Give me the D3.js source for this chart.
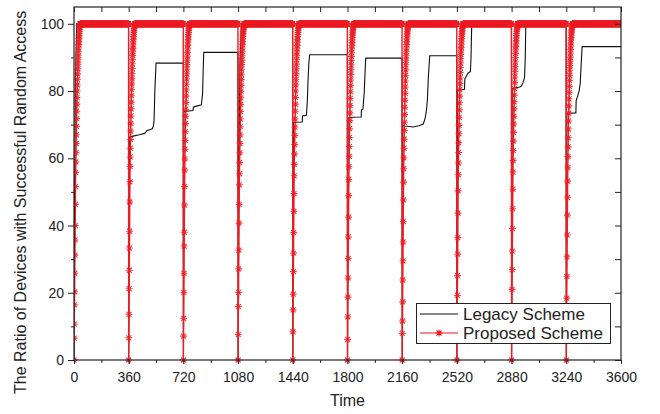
<!DOCTYPE html>
<html><head><meta charset="utf-8">
<script src="https://cdn.jsdelivr.net/npm/d3@7"></script>
<style>
body{margin:0;background:#fff}
svg{display:block}
text{font-family:"Liberation Sans",Arial,Helvetica,sans-serif;fill:#222}
</style></head>
<body><svg id="chart" width="660" height="414"></svg>
<script>
// ---------------- data ----------------
const periodStarts = [0, 360, 720, 1080, 1440, 1800, 2160, 2520, 2880, 3240];
const periodLength = 360;
const timeEnd = 3600;
const xTicks = [0, 360, 720, 1080, 1440, 1800, 2160, 2520, 2880, 3240, 3600];
const xMinorTicks = [180, 540, 900, 1260, 1620, 1980, 2340, 2700, 3060, 3420];
const yTicks = [0, 20, 40, 60, 80, 100];
const yMinorTicks = [10, 30, 50, 70, 90];
const seriesNames = ["Legacy Scheme", "Proposed Scheme"];

// Proposed scheme: ratio (%) sampled every second after each period start, until it reaches the plateau
const proposedRise = [
  [0, 6.5, 10.7, 16.4, 20.3, 25.8, 31.2, 35.7, 40.0, 46.3, 51.6, 55.8, 58.9, 61.7, 64.4, 67.0, 69.5, 71.8, 74.0, 76.1, 78.1, 80.0, 81.8, 83.5, 85.1, 86.6, 88.0, 89.3, 90.5, 91.7, 92.8, 93.8, 94.7, 95.6, 96.4, 97.1, 97.8, 98.4, 98.9, 99.4, 99.8, 100],
  [0, 6.6, 13.6, 21.2, 26.7, 33.3, 38.3, 47.0, 53.0, 57.6, 60.4, 63.0, 65.6, 68.1, 70.4, 72.6, 74.7, 76.7, 78.6, 80.4, 82.1, 83.7, 85.2, 86.7, 88.1, 89.4, 90.6, 91.7, 92.7, 93.7, 94.6, 95.4, 96.2, 96.9, 97.5, 98.1, 98.6, 99.1, 99.5, 99.8, 100],
  [0, 7.1, 12.4, 20.1, 25.8, 33.9, 38.0, 46.1, 51.6, 56.5, 59.8, 62.7, 65.3, 67.9, 70.3, 72.5, 74.6, 76.6, 78.5, 80.3, 82.0, 83.6, 85.1, 86.5, 87.9, 89.2, 90.4, 91.5, 92.6, 93.6, 94.5, 95.3, 96.1, 96.8, 97.4, 98.0, 98.5, 99.0, 99.4, 99.7, 100],
  [0, 7.6, 15.9, 20.1, 27.1, 32.7, 40.7, 46.3, 52.1, 55.4, 58.7, 61.6, 64.4, 67.0, 69.4, 71.7, 73.9, 76.0, 78.0, 79.9, 81.7, 83.4, 85.0, 86.5, 87.9, 89.2, 90.5, 91.7, 92.8, 93.8, 94.7, 95.5, 96.3, 97.0, 97.6, 98.2, 98.7, 99.1, 99.5, 99.8, 100],
  [0, 8.4, 14.9, 19.6, 26.3, 31.8, 37.9, 44.2, 49.5, 54.8, 58.2, 61.3, 64.1, 66.8, 69.3, 71.7, 74.0, 76.1, 78.1, 80.0, 81.8, 83.5, 85.1, 86.6, 88.0, 89.3, 90.5, 91.6, 92.6, 93.6, 94.5, 95.3, 96.1, 96.8, 97.4, 98.0, 98.5, 99.0, 99.4, 99.7, 100],
  [0, 6.1, 12.8, 18.7, 24.4, 30.2, 36.6, 42.5, 48.9, 53.7, 57.5, 60.6, 63.5, 66.2, 68.8, 71.2, 73.5, 75.7, 77.8, 79.8, 81.6, 83.3, 84.9, 86.4, 87.8, 89.1, 90.3, 91.4, 92.5, 93.5, 94.4, 95.2, 96.0, 96.7, 97.3, 97.9, 98.4, 98.9, 99.3, 99.7, 100],
  [0, 7.9, 11.6, 17.3, 23.8, 29.5, 35.1, 41.2, 47.6, 52.9, 56.9, 60.1, 63.0, 65.7, 68.3, 70.7, 73.0, 75.2, 77.3, 79.3, 81.2, 83.0, 84.7, 86.3, 87.8, 89.2, 90.5, 91.7, 92.8, 93.8, 94.7, 95.5, 96.3, 97.0, 97.6, 98.2, 98.7, 99.1, 99.5, 99.8, 100],
  [0, 5.8, 13.1, 19.2, 25.1, 31.5, 36.4, 43.7, 50.3, 55.1, 58.6, 61.7, 64.6, 67.3, 69.8, 72.2, 74.4, 76.5, 78.5, 80.4, 82.2, 83.9, 85.5, 87.0, 88.4, 89.7, 90.9, 92.0, 93.0, 93.9, 94.8, 95.6, 96.3, 97.0, 97.6, 98.1, 98.6, 99.0, 99.4, 99.7, 100],
  [0, 7.3, 14.2, 21.0, 26.9, 32.4, 39.1, 45.0, 50.8, 55.9, 59.3, 62.3, 65.1, 67.7, 70.2, 72.5, 74.7, 76.8, 78.8, 80.7, 82.5, 84.2, 85.8, 87.3, 88.7, 90.0, 91.2, 92.3, 93.3, 94.2, 95.0, 95.8, 96.5, 97.1, 97.7, 98.2, 98.7, 99.1, 99.5, 99.8, 100],
  [0, 6.9, 12.2, 18.4, 24.9, 30.7, 37.2, 43.1, 48.4, 53.2, 57.2, 60.5, 63.4, 66.1, 68.7, 71.1, 73.4, 75.6, 77.7, 79.6, 81.4, 83.1, 84.7, 86.2, 87.6, 88.9, 90.1, 91.3, 92.4, 93.4, 94.3, 95.1, 95.9, 96.6, 97.3, 97.9, 98.4, 98.9, 99.3, 99.7, 100]
];
const proposedPlateau = 100;

// Legacy scheme: time offsets (s, within the period) and ratio (%) at each breakpoint
const legacyOffsets = [
  [0, 4, 10, 18, 359],
  [0, 5, 28, 70, 105, 120, 155, 162, 167, 172, 180, 359],
  [0, 4, 20, 63, 66, 70, 118, 122, 126, 130, 134, 359],
  [0, 5, 12, 22, 359],
  [0, 4, 12, 62, 64, 89, 93, 96, 100, 106, 111, 359],
  [0, 4, 30, 90, 92, 102, 106, 110, 114, 120, 359],
  [0, 4, 17, 72, 110, 138, 145, 153, 160, 166, 172, 181, 359],
  [0, 4, 30, 50, 52, 62, 73, 89, 93, 97, 101, 359],
  [0, 4, 27, 55, 65, 70, 75, 85, 90, 93, 97, 359],
  [0, 4, 20, 63, 65, 75, 86, 92, 98, 104, 360]
];
const legacyValues = [
  [0, 50, 85, 100, 100],
  [0, 66.3, 66.6, 67.0, 67.4, 68.2, 68.8, 69.5, 71.2, 80.0, 88.3, 88.3],
  [0, 73.9, 74.0, 74.2, 75.2, 75.3, 75.9, 77.5, 79.0, 86.0, 91.5, 91.5],
  [0, 55, 88, 100, 100],
  [0, 70.5, 70.7, 70.8, 72.6, 72.8, 75.0, 77.4, 83.0, 88.5, 90.8, 90.8],
  [0, 72.0, 72.2, 72.3, 74.4, 74.6, 77.3, 79.5, 84.0, 89.8, 89.8],
  [0, 69.8, 69.6, 69.3, 69.7, 70.2, 71.0, 72.4, 74.5, 77.4, 84.0, 90.5, 90.5],
  [0, 80.2, 80.4, 80.5, 83.6, 84.4, 85.3, 85.8, 90.0, 98.7, 100, 100],
  [0, 80.8, 81.0, 81.2, 81.5, 82.0, 82.5, 84.0, 90.0, 98.8, 100, 100],
  [0, 73.2, 73.4, 73.5, 77.2, 78.5, 80.4, 82.5, 88.0, 93.2, 93.2]
];

// ---------------- build series from the arrays ----------------
const proposed = [];
periodStarts.forEach((s, k) => {
  const rise = proposedRise[k];
  for (let i = 0; i < periodLength; i++) {
    proposed.push({t: s + i, v: i < rise.length ? rise[i] : proposedPlateau});
  }
});
proposed.push({t: timeEnd, v: proposedPlateau});

const legacy = [];
periodStarts.forEach((s, k) => {
  legacyOffsets[k].forEach((o, j) => legacy.push({t: s + o, v: legacyValues[k][j]}));
});

// ---------------- layout ----------------
const L = 74, R = 621, T = 7, B = 360;
const svg = d3.select("#chart");
const x = d3.scaleLinear().domain([0, 3600]).range([L, R]);
const y = d3.scaleLinear().domain([0, 105]).range([B, T]);
const red = "#ed1c24";

svg.append("defs").append("clipPath").attr("id", "clip")
  .append("rect").attr("x", L).attr("y", 0).attr("width", R - L).attr("height", 414);

const plot = svg.append("g").attr("clip-path", "url(#clip)");

const line = d3.line().x(d => x(d.t)).y(d => y(d.v));

plot.append("path").datum(legacy)
  .attr("fill", "none").attr("stroke", "#111").attr("stroke-width", 1.1)
  .attr("d", line);

plot.append("path").datum(proposed)
  .attr("fill", "none").attr("stroke", red).attr("stroke-width", 1.4)
  .attr("d", line);

const star = "M-3.4,0H3.4M0,-3.4V3.4M-2.5,-2.5L2.5,2.5M-2.5,2.5L2.5,-2.5";
plot.append("g").selectAll("path").data(proposed).join("path")
  .attr("transform", d => `translate(${x(d.t)},${y(d.v)})`)
  .attr("d", star).attr("fill", "none").attr("stroke", red)
  .attr("stroke-width", 1.1).attr("stroke-opacity", 0.85);

// ---------------- axes ----------------
function styleAxis(g) {
  g.select(".domain").remove();
  g.selectAll("line").attr("stroke", "#222").attr("stroke-width", 1);
  g.selectAll("text").attr("font-size", 14).attr("fill", "#222")
    .attr("font-family", '"Liberation Sans",Arial,sans-serif');
}

svg.append("g").attr("transform", `translate(0,${B})`)
  .call(d3.axisBottom(x).tickValues(xTicks).tickFormat(d3.format("d")).tickSize(4).tickPadding(8))
  .call(styleAxis);
svg.append("g").attr("transform", `translate(0,${B})`)
  .call(d3.axisBottom(x).tickValues(xMinorTicks).tickFormat("").tickSize(3))
  .call(styleAxis);
svg.append("g").attr("transform", `translate(${L},0)`)
  .call(d3.axisLeft(y).tickValues(yTicks).tickSize(6).tickPadding(4))
  .call(styleAxis);
svg.append("g").attr("transform", `translate(${L},0)`)
  .call(d3.axisLeft(y).tickValues(yMinorTicks).tickFormat("").tickSize(3))
  .call(styleAxis);
svg.append("g").attr("transform", `translate(0,${T})`)
  .call(d3.axisTop(x).tickValues(xTicks.concat(xMinorTicks)).tickFormat("").tickSize(-5))
  .call(styleAxis);
svg.append("g").attr("transform", `translate(${R},0)`)
  .call(d3.axisRight(y).tickValues(yTicks.concat(yMinorTicks)).tickFormat("").tickSize(-6))
  .call(styleAxis);

svg.append("rect").attr("x", L).attr("y", T).attr("width", R - L).attr("height", B - T)
  .attr("fill", "none").attr("stroke", "#222").attr("stroke-width", 1.2);

// titles
svg.append("text").attr("x", (L + R) / 2).attr("y", 406).attr("text-anchor", "middle")
  .attr("font-size", 16).text("Time");
svg.append("text").attr("transform", "translate(26,394) rotate(-90)")
  .attr("text-anchor", "start").attr("font-size", 16)
  .text("The Ratio of Devices with Successful Random Access");

// ---------------- legend ----------------
const lg = svg.append("g");
lg.append("rect").attr("x", 416.5).attr("y", 303.5).attr("width", 194).attr("height", 40)
  .attr("fill", "#fff").attr("stroke", "#222").attr("stroke-width", 1);
lg.append("line").attr("x1", 420).attr("x2", 458).attr("y1", 314).attr("y2", 314)
  .attr("stroke", "#111").attr("stroke-width", 1.1);
lg.append("line").attr("x1", 420).attr("x2", 458).attr("y1", 333).attr("y2", 333)
  .attr("stroke", red).attr("stroke-width", 1.4).attr("stroke-opacity", 0.7);
lg.append("path").attr("transform", "translate(439,333)").attr("d", star)
  .attr("fill", "none").attr("stroke", red).attr("stroke-width", 1.1);
lg.append("text").attr("x", 463).attr("y", 320).attr("font-size", 17).text(seriesNames[0]);
lg.append("text").attr("x", 463).attr("y", 339).attr("font-size", 17).text(seriesNames[1]);
</script></body></html>
